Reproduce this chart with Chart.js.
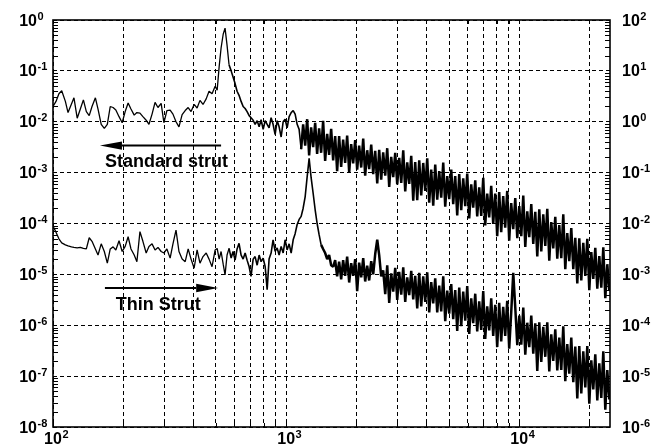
<!DOCTYPE html>
<html>
<head>
<meta charset="utf-8">
<script src="https://cdn.jsdelivr.net/npm/chart.js@4.4.1/dist/chart.umd.min.js"></script>
<style>
  html, body { margin: 0; padding: 0; background: #fff; }
  #wrap { width: 654px; height: 447px; }
</style>
</head>
<body>
<div id="wrap"><canvas id="psd" width="654" height="447"></canvas></div>
<script>
// Frequency bins shared by both spectra (Hz)
const freqHz = [
  100,103,106,109,113,116,120,123,127,131,
  135,139,143,147,152,156,161,166,171,176,
  181,186,192,198,204,210,216,223,229,236,
  243,251,258,266,274,282,291,299,308,318,
  327,337,347,358,369,380,391,403,415,427,
  440,454,467,481,496,
  506,516,526,537,547,558,569,581,592,604,
  616,628,641,654,667,680,694,707,722,736,
  751,766,781,797,813,829,845,862,879,897,
  915,933,952,971,990,1010,1030,1051,1072,1093,
  1115,1137,
  1160,1183,1207,1231,1255,1280,1306,1332,1358,1385,
  1413,1441,1470,1500,1529,1560,1591,1623,1655,1688,
  1722,1756,1791,1827,1864,1901,1939,1978,2017,2057,
  2099,2141,2183,2227,2271,2317,2363,2410,2459,2507,
  2557,2608,2661,2714,2768,2823,2880,2937,2996,3055,
  3117,3179,3242,3307,3373,3440,3509,3578,3650,3723,
  3797,3873,3950,4029,4109,4191,4275,4360,4447,4536,
  4626,4719,4813,4909,5007,5107,5208,5312,5418,5527,
  5637,5749,5864,5981,6100,6222,6346,6473,6601,6733,
  6868,7005,7144,7287,7431,7580,7731,7885,8042,8203,
  8366,8533,8703,8877,9054,9235,9423,9612,9804,10000,
  10200,10403,10611,10822,11038,11258,11482,11712,11946,12184,
  12427,12675,12928,13186,13449,13717,13991,14270,14555,14846,
  15142,15444,15752,16066,16387,16714,17048,17388,17735,18089,
  18450,18818,19194,19577,19968,20366,20773,21187,21610,22042,
  22482,22931,23389,23855,24331
];

// Standard strut spectrum, log10 of the level on the left axis
const standardStrutLog = [
  -1.70,-1.60,-1.45,-1.39,-1.60,-1.82,-1.65,-1.53,-1.93,-1.75,
  -1.57,-1.80,-1.88,-1.70,-1.53,-1.75,-2.05,-2.13,-2.05,-1.70,
  -1.72,-1.77,-1.90,-2.02,-1.80,-1.63,-1.75,-1.87,-1.82,-1.83,
  -1.90,-1.97,-2.05,-1.85,-1.62,-1.72,-1.64,-2.02,-1.78,-1.77,
  -1.85,-2.00,-2.10,-1.86,-1.78,-1.72,-1.80,-1.66,-1.73,-1.58,
  -1.66,-1.55,-1.40,-1.45,-1.30,
  -1.38,-0.92,-0.55,-0.28,-0.16,-0.50,-0.88,-1.00,-1.12,-1.25,
  -1.40,-1.48,-1.60,-1.70,-1.74,-1.80,-1.88,-1.92,-1.97,-2.05,
  -1.98,-2.10,-1.96,-2.15,-1.98,-2.05,-2.12,-1.92,-2.05,-2.25,
  -1.98,-2.10,-2.30,-2.00,-1.95,-2.12,-1.90,-1.82,-1.78,-1.85,
  -2.05,-2.15,
  -2.54,-2.05,-2.47,-1.95,-2.66,-2.11,-2.50,-2.02,-2.63,-2.13,
  -2.61,-1.98,-2.77,-2.24,-2.65,-2.14,-2.76,-2.28,-2.97,-2.28,
  -2.89,-2.35,-2.81,-2.27,-3.00,-2.44,-2.82,-2.36,-2.94,-2.47,
  -2.90,-2.33,-3.06,-2.56,-2.93,-2.45,-3.03,-2.57,-3.21,-2.55,
  -3.14,-2.60,-3.06,-2.52,-3.28,-2.69,-3.09,-2.61,-3.23,-2.71,
  -3.20,-2.56,-3.37,-2.80,-3.22,-2.67,-3.55,-2.79,-3.54,-2.76,
  -3.45,-2.81,-3.36,-2.72,-3.59,-2.94,-3.65,-2.84,-3.53,-2.97,
  -3.49,-2.80,-3.67,-3.07,-3.52,-2.94,-3.62,-3.07,-3.84,-3.03,
  -3.74,-3.11,-3.66,-3.02,-3.90,-3.23,-3.69,-3.15,-3.86,-3.29,
  -3.85,-3.10,-4.04,-3.41,-3.88,-3.26,-4.01,-3.41,-4.25,-3.38,
  -4.17,-3.46,-4.08,-3.36,-4.34,-3.60,-4.11,-3.50,-4.29,-3.66,
  -4.25,-3.45,-4.46,-3.76,-4.27,-3.62,-4.40,-3.77,-4.65,-3.72,
  -4.55,-3.82,-4.44,-3.71,-4.73,-3.97,-4.49,-3.87,-4.69,-4.03,
  -4.68,-3.82,-4.90,-4.19,-4.74,-4.09,-4.90,-4.28,-5.18,-4.29,
  -5.12,-4.38,-5.03,-4.30,-5.31,-4.56,-5.09,-4.48,-5.28,-4.64,
  -5.26,-4.47,-5.47,-4.80,-5.32
];

// Thin strut spectrum, log10 of the level on the right axis
const thinStrutLog = [
  -2.05,-2.17,-2.30,-2.38,-2.42,-2.44,-2.46,-2.47,-2.48,-2.47,
  -2.49,-2.50,-2.28,-2.35,-2.50,-2.62,-2.40,-2.55,-2.78,-2.50,
  -2.46,-2.52,-2.34,-2.55,-2.45,-2.26,-2.50,-2.62,-2.75,-2.16,
  -2.35,-2.58,-2.45,-2.40,-2.52,-2.47,-2.55,-2.58,-2.50,-2.68,
  -2.40,-2.13,-2.55,-2.70,-2.75,-2.50,-2.70,-2.88,-2.52,-2.78,
  -2.65,-2.58,-2.70,-2.85,-2.52,
  -2.49,-2.70,-2.55,-2.80,-3.01,-2.62,-2.49,-2.68,-2.55,-2.72,
  -2.50,-2.39,-2.62,-2.70,-2.58,-2.72,-2.85,-3.04,-2.70,-2.65,
  -2.82,-2.62,-2.75,-2.68,-2.85,-3.30,-2.70,-2.58,-2.32,-2.55,
  -2.48,-2.62,-2.45,-2.58,-2.32,-2.52,-2.40,-2.58,-2.32,-2.20,
  -2.02,-1.92,
  -1.86,-1.70,-1.47,-1.08,-0.72,-1.10,-1.41,-1.73,-2.00,-2.22,
  -2.42,-2.50,-2.58,-2.70,-2.62,-2.82,-2.85,-2.72,-3.04,-2.75,
  -3.10,-2.72,-3.03,-2.65,-3.16,-2.78,-3.03,-2.70,-3.33,-2.77,
  -3.06,-2.68,-3.14,-2.83,-3.12,-2.74,-3.00,-2.60,-2.32,-2.62,
  -3.04,-2.92,-3.39,-2.82,-3.56,-2.98,-3.34,-2.87,-3.50,-2.95,
  -3.40,-2.86,-3.54,-3.06,-3.41,-2.93,-3.49,-3.03,-3.67,-2.97,
  -3.63,-3.04,-3.54,-2.96,-3.75,-3.15,-3.57,-3.08,-3.75,-3.22,
  -3.73,-3.04,-3.92,-3.32,-3.77,-3.19,-3.88,-3.31,-4.11,-3.26,
  -4.02,-3.34,-3.91,-3.23,-4.17,-3.47,-3.96,-3.38,-4.12,-3.53,
  -4.09,-3.33,-4.27,-3.63,-4.10,-3.47,-4.21,-3.60,-4.43,-3.56,
  -4.32,-3.64,-4.21,-3.52,-4.46,-3.75,-2.97,-3.65,-4.39,-3.81,
  -4.38,-3.65,-4.58,-3.95,-4.43,-3.81,-4.56,-3.96,-4.90,-3.94,
  -4.72,-4.03,-4.62,-3.94,-4.91,-4.18,-4.70,-4.08,-4.89,-4.24,
  -4.88,-4.02,-5.10,-4.37,-4.95,-4.24,-5.12,-4.42,-5.44,-4.41,
  -5.34,-4.51,-5.22,-4.41,-5.54,-4.69,-5.26,-4.57,-5.48,-4.75,
  -5.43,-4.51,-5.66,-4.88,-5.46
];

// Axis ticks and grid
const xGridHz = [100,200,300,400,500,600,700,800,900,
                 1000,2000,3000,4000,5000,6000,7000,8000,9000,
                 10000,20000];
const xLabelExp = [2, 3, 4];
const leftExp = [-8,-7,-6,-5,-4,-3,-2,-1,0];
const rightExp = [-6,-5,-4,-3,-2,-1,0,1,2];

// Annotation anchors (frequency in Hz, level on the named axis)
const stdArrow = { fromHz: 526, toHz: 159, level: 3.4e-3, axis: 'y' };
const stdLabel = { text: 'Standard strut', hz: 167, level: 1.3e-3, axis: 'y' };
const thinArrow = { fromHz: 167, toHz: 511, level: 5.4e-4, axis: 'yR' };
const thinLabel = { text: 'Thin Strut', hz: 186, level: 2.0e-4, axis: 'yR' };

const FONT = '"Liberation Sans", Arial, Helvetica, sans-serif';

function series(logs) {
  return freqHz.map((f, i) => ({ x: f, y: Math.pow(10, logs[i]) }));
}

// the trace is drawn heavier where the bins crowd into a broadband floor
function traceWidth(denseFromHz) {
  return c => {
    const hz = c.p0.parsed.x;
    if (hz >= denseFromHz) return 2.5;
    if (hz >= 560) return 1.6;
    return 1.3;
  };
}

function drawPower(ctx, x, baseY, exp, align) {
  ctx.font = 'bold 16px ' + FONT;
  const w = ctx.measureText('10').width;
  let bx = x;
  if (align === 'right') bx = x - w;
  else if (align === 'center') bx = x - w / 2;
  ctx.textAlign = 'left';
  ctx.textBaseline = 'alphabetic';
  ctx.fillText('10', bx, baseY);
  ctx.font = 'bold 11px ' + FONT;
  ctx.fillText(String(exp), bx + w + 0.5, baseY - 6);
}

function drawArrow(ctx, x0, y, tipX) {
  const dir = tipX > x0 ? 1 : -1;
  const headLen = 22, headHalf = 4.2;
  ctx.beginPath();
  ctx.lineWidth = 2;
  ctx.moveTo(x0, y);
  ctx.lineTo(tipX - dir * headLen, y);
  ctx.stroke();
  ctx.beginPath();
  ctx.moveTo(tipX, y);
  ctx.lineTo(tipX - dir * headLen, y - headHalf);
  ctx.lineTo(tipX - dir * headLen, y + headHalf);
  ctx.closePath();
  ctx.fill();
}

const decor = {
  id: 'decor',
  afterDraw(chart) {
    const ctx = chart.ctx;
    const { left, right, top, bottom } = chart.chartArea;
    const xs = chart.scales.x, ys = chart.scales.y, yr = chart.scales.yR;
    ctx.save();
    ctx.strokeStyle = '#000';
    ctx.fillStyle = '#000';

    // inward minor ticks on the level axes
    ctx.lineWidth = 1;
    ctx.beginPath();
    for (let d = -8; d < 0; d++) {
      for (let m = 2; m <= 9; m++) {
        const py = Math.round(ys.getPixelForValue(m * Math.pow(10, d))) + 0.5;
        ctx.moveTo(left, py); ctx.lineTo(left + 5, py);
      }
    }
    for (let d = -6; d < 2; d++) {
      for (let m = 2; m <= 9; m++) {
        const py = Math.round(yr.getPixelForValue(m * Math.pow(10, d))) + 0.5;
        ctx.moveTo(right, py); ctx.lineTo(right - 5, py);
      }
    }
    // inward ticks on the frequency axis, top and bottom
    xGridHz.forEach(v => {
      const px = Math.round(xs.getPixelForValue(v)) + 0.5;
      ctx.moveTo(px, top); ctx.lineTo(px, top + 4);
      ctx.moveTo(px, bottom); ctx.lineTo(px, bottom - 4);
    });
    ctx.stroke();

    // frame
    ctx.lineWidth = 1.6;
    ctx.strokeRect(left, top, right - left, bottom - top);

    // tick labels
    leftExp.forEach(e => {
      const py = ys.getPixelForValue(Math.pow(10, e));
      drawPower(ctx, 37, py + 5.5, e, 'right');
    });
    rightExp.forEach(e => {
      const py = yr.getPixelForValue(Math.pow(10, e));
      drawPower(ctx, 622, py + 5.5, e, 'left');
    });
    xLabelExp.forEach(e => {
      const px = xs.getPixelForValue(Math.pow(10, e));
      drawPower(ctx, px, bottom + 17, e, 'center');
    });

    // strut annotations
    const sc = { y: ys, yR: yr };
    [stdArrow, thinArrow].forEach(a => {
      const py = sc[a.axis].getPixelForValue(a.level);
      drawArrow(ctx, xs.getPixelForValue(a.fromHz), py, xs.getPixelForValue(a.toHz));
    });
    ctx.font = 'bold 18px ' + FONT;
    ctx.textAlign = 'left';
    ctx.textBaseline = 'alphabetic';
    [stdLabel, thinLabel].forEach(t => {
      ctx.fillText(t.text, xs.getPixelForValue(t.hz), sc[t.axis].getPixelForValue(t.level));
    });
    ctx.restore();
  }
};

function lineStyle(denseFromHz) {
  return {
    borderColor: '#000',
    borderWidth: 1.3,
    borderJoinStyle: 'bevel',
    pointRadius: 0,
    tension: 0,
    fill: false,
    segment: { borderWidth: traceWidth(denseFromHz) }
  };
}

new Chart(document.getElementById('psd'), {
  type: 'line',
  data: {
    datasets: [
      Object.assign({ label: 'Standard strut', data: series(standardStrutLog), yAxisID: 'y' }, lineStyle(1150)),
      Object.assign({ label: 'Thin Strut', data: series(thinStrutLog), yAxisID: 'yR' }, lineStyle(1400))
    ]
  },
  options: {
    responsive: false,
    animation: false,
    devicePixelRatio: 1,
    parsing: false,
    normalized: true,
    layout: { padding: { top: 20, left: 0, right: 0, bottom: 0 } },
    plugins: { legend: { display: false }, tooltip: { enabled: false } },
    scales: {
      x: {
        type: 'logarithmic', position: 'bottom', min: 100, max: 24500,
        ticks: { display: false },
        grid: { color: '#000', lineWidth: 1, drawTicks: false },
        border: { display: false, dash: [4, 3] },
        afterBuildTicks: s => { s.ticks = xGridHz.map(v => ({ value: v })); },
        afterFit: s => { s.height = 20; }
      },
      y: {
        type: 'logarithmic', position: 'left', min: 1e-8, max: 1,
        ticks: { display: false },
        grid: { color: '#000', lineWidth: 1, drawTicks: false },
        border: { display: false, dash: [4, 3] },
        afterBuildTicks: s => { s.ticks = leftExp.map(e => ({ value: Math.pow(10, e) })); },
        afterFit: s => { s.width = 53; }
      },
      yR: {
        type: 'logarithmic', position: 'right', min: 1e-6, max: 100,
        ticks: { display: false },
        grid: { drawOnChartArea: false, drawTicks: false },
        border: { display: false },
        afterBuildTicks: s => { s.ticks = rightExp.map(e => ({ value: Math.pow(10, e) })); },
        afterFit: s => { s.width = 44; }
      }
    }
  },
  plugins: [decor]
});
</script>
</body>
</html>
